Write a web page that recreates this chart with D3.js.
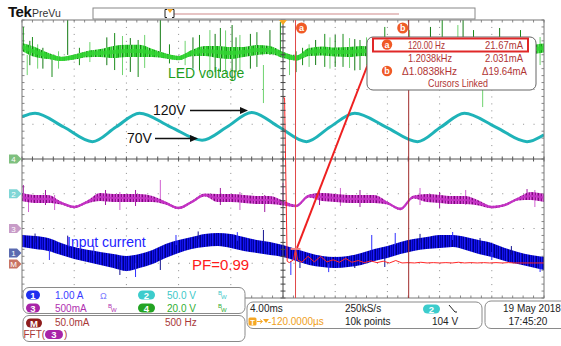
<!DOCTYPE html>
<html><head><meta charset="utf-8">
<script src="https://cdn.jsdelivr.net/npm/d3@7"></script>
<style>
html,body{margin:0;padding:0;background:#fff;}
svg{display:block;font-family:"Liberation Sans",Arial,sans-serif;}
</style></head><body>
<svg id="c" width="561" height="346"></svg>
<script>
// ================= DATA =================
const timeMs = [-20,-19,-18,-17,-16,-15,-14,-13,-12,-11,-10,-9,-8,-7,-6,-5,-4,-3,-2,-1,0,1,2,3,4,5,6,7,8,9,10,11,12,13,14,15,16,17,18,19,20];
// CH4 LED voltage (V): centre of trace and half-width of dense noise band
const ledVoltage = [64.5,61.6,59.3,57.6,58.7,60.4,61.0,61.6,62.2,62.2,61.0,59.3,58.1,61.0,62.2,61.6,61.0,61.6,62.7,62.7,59.9,58.1,61.6,62.2,61.6,61.6,62.2,61.6,59.9,58.1,60.4,62.2,62.2,61.6,61.6,62.2,59.9,58.1,60.4,62.7,63.9];
const ledNoise = [2.3,2.9,1.8,1.2,1.5,1.8,2.3,3.5,3.5,3.5,2.3,1.5,1.2,1.8,2.9,3.5,3.5,2.9,2.9,2.3,1.8,1.5,2.3,2.6,2.6,2.9,2.9,2.9,1.8,1.2,1.8,2.9,2.9,2.9,2.9,2.3,1.5,1.2,1.8,2.6,2.6];
const ledSpikes = [[-19.9,76.0,65.6],[-19.6,59.9,48.3],[-19.4,68,54],[-19.2,70.2,62.7],[-18.8,66,52],[-18.4,64,52],[-17.7,59.9,47.2],[-17.2,62,52],[-16.5,80.0,59.9],[-15.6,64,54],[-14.8,67.3,55.8],[-13.5,70,54],[-12.9,72.5,51.2],[-12.3,70.8,48.3],[-11.7,69.6,50.1],[-11.1,68.5,47.2],[-10.6,71.4,52.4],[-9.4,80.0,59.9],[-8.7,66,55],[-7.5,68,54],[-6.9,70,52],[-6.4,71.4,51.2],[-5.6,74.2,48.3],[-5.2,72,50],[-4.8,75.4,50.1],[-4.4,74,49],[-3.9,77.1,45.5],[-3.6,70,50],[-3.3,71.4,51.2],[-2.5,72,52],[-2.0,73,53],[-1.5,54.1,32.2],[-1.0,74.2,59.9],[-0.2,78.8,59.9],[0.5,59.9,48.3],[1.0,62,50],[1.5,64,54],[2.0,66,53],[2.5,68.5,54.1],[3.2,72,53],[3.6,70,52],[4.0,71.4,53.0],[4.6,72,53],[5.1,69.6,52.4],[5.5,69,51],[5.9,68.5,51.2],[6.4,70,54],[6.7,66,54],[7.8,76.0,68.5],[9.7,74.2,68.5],[11.3,76.0,68.5],[12.2,80.0,68.5],[13.4,77.1,68.5],[13.8,80.0,68.5],[14.6,74.2,68.5],[15.3,40.9,29.9],[16.6,75.4,68.5],[18.2,74.2,68.5],[19.7,70.2,54.1]];
// CH2 bus voltage (V) key points
const busTime = [-20,-19.0,-16.8,-14.6,-12.8,-11.0,-8.6,-6.2,-4.3,-2.4,-0.3,1.8,3.6,5.5,7.9,10.3,12.1,13.9,16.3,18.7,20];
const busVolt = [111,116,96,75,96,116,96,77,96,117,96,75,96,116,96,75,96,116,96,75,85];
// CH3 current (A): centre and noise half-width
const ch3Current = [0.453,0.425,0.425,0.367,0.309,0.381,0.453,0.439,0.439,0.439,0.425,0.367,0.295,0.381,0.482,0.439,0.439,0.425,0.410,0.410,0.367,0.324,0.468,0.453,0.439,0.425,0.425,0.425,0.367,0.281,0.453,0.439,0.425,0.410,0.410,0.367,0.309,0.338,0.425,0.468,0.439];
const ch3Noise = [0.058,0.058,0.058,0.022,0.018,0.022,0.058,0.058,0.058,0.058,0.043,0.022,0.018,0.018,0.022,0.058,0.058,0.058,0.058,0.058,0.036,0.018,0.022,0.058,0.058,0.058,0.058,0.058,0.022,0.018,0.022,0.058,0.058,0.058,0.058,0.036,0.018,0.018,0.022,0.058,0.058];
const ch3Spikes = [[-19.9,0.626,0.410],[-19.5,0.410,0.237],[-18.2,0.554,0.338],[-17.5,0.482,0.266],[-13.6,0.554,0.338],[-12.5,0.525,0.266],[-11.3,0.554,0.324],[-9.4,0.698,0.410],[-4.8,0.583,0.338],[-3.3,0.525,0.266],[-1.4,0.482,0.237],[0,0.655,0.338],[2.8,0.554,0.338],[4.4,0.583,0.324],[5.9,0.554,0.309],[10.5,0.583,0.338],[12.0,0.525,0.295],[14.0,0.554,0.338],[18.7,0.568,0.410],[19.3,0.554,0.309]];
// CH1 input current (A): upper and lower envelope of the noisy band
const inputHi = [0.518,0.489,0.432,0.29,0.17,0.09,0.03,-0.029,-0.086,-0.029,0.086,0.259,0.374,0.460,0.547,0.576,0.547,0.460,0.374,0.317,0.230,0.115,0,-0.086,-0.115,-0.086,0,0.115,0.201,0.317,0.403,0.460,0.518,0.518,0.460,0.374,0.288,0.144,0.029,-0.058,-0.115];
const inputLo = [0.173,0.115,0.058,-0.058,-0.173,-0.259,-0.345,-0.432,-0.518,-0.432,-0.317,-0.144,0,0.115,0.173,0.201,0.144,0.058,0,-0.058,-0.115,-0.230,-0.345,-0.403,-0.432,-0.403,-0.345,-0.230,-0.144,-0.029,0.058,0.115,0.144,0.173,0.086,-0.029,-0.115,-0.230,-0.317,-0.403,-0.489];
const inputSpikes = [[-19.0,0.56,0.3],[-17.9,0.086,-0.201],[-16.5,0.5,0.2],[-14.5,0.2,-0.05],[-12.5,-0.259,-0.633],[-11.3,-0.288,-0.691],[-9.4,-0.144,-0.489],[-8.2,0.518,0.230],[-6.5,0.62,0.4],[-3.5,0.6,0.35],[-1.5,0.662,0.288],[0.6,-0.230,-0.633],[1.3,-0.144,-0.432],[3.5,-0.3,-0.55],[5.5,-0.259,-0.432],[6.8,0.518,0.086],[7.8,-0.058,-0.403],[8.6,0.576,0.230],[10.5,0.55,0.3],[13.0,0.604,0.374],[15.1,0.432,0.201],[16.0,0.029,-0.201],[17.5,0.2,-0.05],[19.7,-0.259,-0.547]];
// Math: FFT(CH3) magnitude (mA) vs frequency (Hz)
const fftHz = [0,15,40,60,100,120,140,180,240,300,360,420,480,540,600,660,720,780,840,900,960,1020,1080,1140,1200,1260,1320,1380,1440,1500,1560,1620,1680,1740,1800,1860,1920,1980,2040,2100,2160,2220,2280,2340,2400,2460,2500];
const fftmA = [239,239,4,2,6,21.7,6,2.5,11,3,11,3,6,2.5,8,2.5,5,2,4.5,2,4,1.5,5,1.5,2.0,1.5,2.5,1.5,2,1.5,2,1.5,2.5,1.5,2,1.5,2,1.5,2,1.5,2,1.5,1.5,1.5,1.5,1.5,1.5];
// cursors
const cursorHz = [120, 1203.8];
const cursormA = [21.67, 2.031];
const readoutFreq = ["120.00 Hz","1.2038kHz","\u0394" + "1.0838kHz"];
const readoutAmp = ["21.67mA","2.031mA","\u0394" + "19.64mA"];
// settings texts
const chanLabels = ["1","2","3","4"];
const chanScaleText = ["1.00 A","50.0 V","500mA","20.0 V"];
const mathTexts = ["50.0mA","500 Hz"];
const timebaseTexts = ["4.00ms","250kS/s","-120.0000\u00b5s","10k points","104 V"];
const dateTexts = ["19 May  2018","17:45:20"];

// ================= LAYOUT =================
const svg = d3.select('#c');
const X0=22, X1=544, Y0=20, Y1=298;
const DIV=(Y1-Y0)/8, HDIV=(X1-X0)/10, CY=Y0+4*DIV, CX=(X0+X1)/2;
const xT = d3.scaleLinear().domain([-20,20]).range([X0,X1]);
const xF = d3.scaleLinear().domain([-2500,2500]).range([X0,X1]);
const chScale=(gy,per)=>d3.scaleLinear().domain([0,per]).range([gy,gy-DIV]);
const y4=chScale(CY,20), y2=chScale(CY+DIV,50), y3=chScale(CY+2*DIV,0.5), y1=chScale(253,1.0), yM=chScale(264,50);

const defs=svg.append('defs');
defs.append('clipPath').attr('id','plot').append('rect').attr('x',X0).attr('y',Y0).attr('width',X1-X0).attr('height',Y1-Y0);
function stripes(id, cols){
  const p=defs.append('pattern').attr('id',id).attr('patternUnits','userSpaceOnUse').attr('width',cols.length).attr('height',40);
  cols.forEach((c,i)=>p.append('rect').attr('x',i).attr('y',0).attr('width',1).attr('height',40).attr('fill',c));
}
stripes('gN',['#2bcf2b','#1a9a1a','#4fdc4f','#2bcf2b','#7fd87f','#168016','#33d633','#5fe05f','#2bc42b']);
stripes('mN',['#c838c8','#8e128e','#d860d8','#b424b4','#7a0c7a','#cc44cc']);
stripes('bN',['#1212e0','#00009a','#1c1cff','#0808c0','#000080','#1414f0','#0000b0']);

// ---- graticule ----
const grid=svg.append('g');
for(let i=1;i<10;i++){ if(i===5) continue;
  grid.append('line').attr('x1',X0+i*HDIV).attr('x2',X0+i*HDIV).attr('y1',Y0).attr('y2',Y1)
   .attr('stroke','#8c8c8c').attr('stroke-width',1).attr('stroke-dasharray',`1 ${DIV/5-1}`);
}
for(let j=1;j<8;j++){ if(j===4) continue;
  grid.append('line').attr('y1',Y0+j*DIV).attr('y2',Y0+j*DIV).attr('x1',X0).attr('x2',X1)
   .attr('stroke','#8c8c8c').attr('stroke-width',1).attr('stroke-dasharray',`1 ${HDIV/5-1}`);
}
for(let k=0;k<=50;k++){ const x=X0+k*HDIV/5;
  grid.append('line').attr('x1',x).attr('x2',x).attr('y1',Y0).attr('y2',Y0+2.5).attr('stroke','#888');
  grid.append('line').attr('x1',x).attr('x2',x).attr('y1',Y1-2.5).attr('y2',Y1).attr('stroke','#888');
}
for(let k=0;k<=40;k++){ const y=Y0+k*DIV/5;
  grid.append('line').attr('x1',X0).attr('x2',X0+2.5).attr('y1',y).attr('y2',y).attr('stroke','#888');
  grid.append('line').attr('x1',X1-2.5).attr('x2',X1).attr('y1',y).attr('y2',y).attr('stroke','#888');
}

// ---- traces ----
const tr=svg.append('g').attr('clip-path','url(#plot)');
const idx=d3.range(timeMs.length);
function band(ys, c, n, fill){
  tr.append('path').datum(idx).attr('fill',fill)
    .attr('d',d3.area().x(i=>xT(timeMs[i])).y0(i=>ys(c[i]-n[i])).y1(i=>ys(c[i]+n[i])).curve(d3.curveMonotoneX));
}
function spikes(ys, arr, cols, w){
  tr.selectAll(null).data(arr).join('line').attr('x1',d=>xT(d[0])).attr('x2',d=>xT(d[0]))
    .attr('y1',d=>ys(d[1])).attr('y2',d=>ys(d[2])).attr('stroke',(d,i)=>cols[i%cols.length]).attr('stroke-width',w||1);
}
const lineC=(ys,c)=>d3.line().x(i=>xT(timeMs[i])).y(i=>ys(c[i])).curve(d3.curveMonotoneX);

// green LED voltage
spikes(y4, ledSpikes, ['#1a8c1a','#6fd36f','#137a13'], 1);
band(y4, ledVoltage, ledNoise, 'url(#gN)');
tr.append('path').datum(idx).attr('d',lineC(y4,ledVoltage)).attr('fill','none').attr('stroke','#33d433').attr('stroke-width',4).attr('opacity',0.85);
// cyan bus voltage
tr.append('path').datum(d3.range(busTime.length)).attr('fill','none').attr('stroke','#1fb3b8').attr('stroke-width',3)
  .attr('d',d3.line().x(i=>xT(busTime[i])).y(i=>y2(busVolt[i])).curve(d3.curveMonotoneX));
// magenta ch3
spikes(y3, ch3Spikes, ['#a01aa0','#d060d0'], 1);
band(y3, ch3Current, ch3Noise, 'url(#mN)');
tr.append('path').datum(idx).attr('d',lineC(y3,ch3Current)).attr('fill','none').attr('stroke','#c433c4').attr('stroke-width',2.2).attr('opacity',0.9);
// blue input current
tr.append('path').datum(idx).attr('fill','url(#bN)')
  .attr('d',d3.area().x(i=>xT(timeMs[i])).y0(i=>y1(inputLo[i])).y1(i=>y1(inputHi[i])).curve(d3.curveMonotoneX));
spikes(y1, inputSpikes, ['#141490','#3030ff'], 1);
// FFT
tr.append('path').datum(d3.range(fftHz.length)).attr('fill','none').attr('stroke','#ff2626').attr('stroke-width',1)
  .attr('d',d3.line().x(i=>xF(fftHz[i])).y(i=>yM(fftmA[i])));

// centre cross
const cc=svg.append('g');
cc.append('line').attr('x1',X0).attr('x2',X1).attr('y1',CY).attr('y2',CY).attr('stroke','#555');
cc.append('line').attr('x1',CX).attr('x2',CX).attr('y1',Y0).attr('y2',Y1).attr('stroke','#444');
for(let k=0;k<=50;k++){ const x=X0+k*HDIV/5; cc.append('line').attr('x1',x).attr('x2',x).attr('y1',CY-2.5).attr('y2',CY+2.5).attr('stroke','#555');}
for(let k=0;k<=40;k++){ const y=Y0+k*DIV/5; cc.append('line').attr('x1',CX-2.5).attr('x2',CX+2.5).attr('y1',y).attr('y2',y).attr('stroke','#444');}
svg.append('rect').attr('x',X0).attr('y',Y0).attr('width',X1-X0).attr('height',Y1-Y0).attr('fill','none').attr('stroke','#777');

// cursors
const cur=svg.append('g');
cur.append('line').attr('x1',xF(cursorHz[0])).attr('x2',xF(cursorHz[0])).attr('y1',Y0).attr('y2',Y1).attr('stroke','#e04848').attr('stroke-width',1);
cur.append('line').attr('x1',xF(cursorHz[1])).attr('x2',xF(cursorHz[1])).attr('y1',Y0).attr('y2',Y1).attr('stroke','#a02c2c').attr('stroke-width',1);
cur.append('line').attr('x1',xF(cursorHz[0])-5).attr('x2',xF(cursorHz[0])+5).attr('y1',yM(cursormA[0])).attr('y2',yM(cursormA[0])).attr('stroke','#f08080').attr('stroke-width',2);
function badge(x,y,t){ svg.append('circle').attr('cx',x).attr('cy',y).attr('r',5.5).attr('fill','#f05a26');
  svg.append('text').attr('x',x).attr('y',y+3).attr('text-anchor','middle').attr('font-size',9).attr('font-weight','bold').attr('fill','#fff').text(t); }
badge(xF(cursorHz[0])+6,28,'a');
badge(xF(cursorHz[1])-6,28,'b');
svg.append('path').attr('d',`M${CX-4},${Y0} L${CX+4},${Y0} L${CX},${Y0+5} Z`).attr('fill','#f5a623');

// annotations
const ann=svg.append('g').attr('font-size',14);
ann.append('text').attr('x',168).attr('y',78).attr('fill','#1e9e1e').text('LED voltage');
ann.append('text').attr('x',67).attr('y',247).attr('fill','#2222ff').text('Input current');
ann.append('text').attr('x',192).attr('y',270).attr('fill','#ff1a1a').attr('font-size',15).text('PF=0.99');
ann.append('text').attr('x',153).attr('y',115).attr('fill','#111').text('120V');
ann.append('text').attr('x',127).attr('y',143).attr('fill','#111').text('70V');
function arrow(xa,xb,y){ ann.append('line').attr('x1',xa).attr('x2',xb-7).attr('y1',y).attr('y2',y).attr('stroke','#111').attr('stroke-width',1.3);
  ann.append('path').attr('d',`M${xb},${y} L${xb-8},${y-3.5} L${xb-8},${y+3.5} Z`).attr('fill','#111'); }
arrow(190, 248, 110.5);
arrow(155, 198, 138.5);
svg.append('line').attr('x1',xF(cursorHz[0])+1.5).attr('y1',yM(cursormA[0])-1).attr('x2',373).attr('y2',51).attr('stroke','#ee2020').attr('stroke-width',2);

// readout box
const rb=svg.append('g').attr('fill','#b03434').attr('font-size',10.5);
rb.append('rect').attr('x',367).attr('y',37).attr('width',169).attr('height',53).attr('rx',6).attr('fill','#fff').attr('stroke','#666');
rb.append('rect').attr('x',373).attr('y',38.5).attr('width',155).attr('height',13).attr('fill','none').attr('stroke','#e02828').attr('stroke-width',2);
const rowY=[48.5,61.5,75];
readoutFreq.forEach((t,i)=>rb.append('text').attr('x',i===2?402:408).attr('y',rowY[i]).attr('textLength',i===0?37:(i===1?44:55)).attr('lengthAdjust','spacingAndGlyphs').text(t));
readoutAmp.forEach((t,i)=>rb.append('text').attr('x',i===2?482:485).attr('y',rowY[i]).attr('textLength',i===2?45:38).attr('lengthAdjust','spacingAndGlyphs').text(t));
rb.append('text').attr('x',428).attr('y',87).attr('textLength',60).attr('lengthAdjust','spacingAndGlyphs').text('Cursors Linked');
[['a',44.5],['b',71]].forEach(([t,y])=>{ rb.append('circle').attr('cx',387).attr('cy',y).attr('r',5.2).attr('fill','#f05a26');
  rb.append('text').attr('x',387).attr('y',y+3).attr('text-anchor','middle').attr('font-size',9).attr('font-weight','bold').attr('fill','#fff').text(t); });

// ground markers
const gm=[['4',CY,'#7fc07f'],['2',CY+DIV,'#7fd6d6'],['3',CY+2*DIV,'#c89cc8'],['1',253,'#5a6ab0'],['M',264,'#c87464']];
gm.forEach(([t,y,c])=>{ svg.append('path').attr('d',`M9,${y-4.5} H17 L21.5,${y} L17,${y+4.5} H9 Z`).attr('fill',c);
  svg.append('text').attr('x',13.5).attr('y',y+3).attr('text-anchor','middle').attr('font-size',8).attr('fill','#fff').text(t); });

// header
svg.append('text').attr('x',8).attr('y',17).attr('font-size',15).attr('font-weight','bold').attr('letter-spacing',-0.5).attr('fill','#111').text('Tek');
svg.append('text').attr('x',32).attr('y',17).attr('font-size',10.5).attr('fill','#333').text('PreVu');
svg.append('rect').attr('x',93).attr('y',8).attr('width',382).attr('height',11).attr('fill','#fff').attr('stroke','#888');
svg.append('line').attr('x1',174).attr('x2',399).attr('y1',14).attr('y2',14).attr('stroke','#d08a8a').attr('stroke-width',1.2);
svg.append('path').attr('d','M167,9.5 H165 V17.5 H167 M172,9.5 H174 V17.5 H172').attr('fill','none').attr('stroke','#222');
svg.append('path').attr('d','M167,9 L173,9 L170,13 Z').attr('fill','#f5a623');

// bottom panels
const bp=svg.append('g').attr('font-size',10);
function rbox(x,y,w,h){ bp.append('rect').attr('x',x).attr('y',y).attr('width',w).attr('height',h).attr('rx',6).attr('fill','#fff').attr('stroke','#8a8a8a'); }
function pill(x,y,w,fill,t){ bp.append('rect').attr('x',x).attr('y',y).attr('width',w).attr('height',9).attr('rx',4.5).attr('fill',fill);
  bp.append('text').attr('x',x+w/2).attr('y',y+8).attr('text-anchor','middle').attr('font-size',9.5).attr('font-weight','bold').attr('fill','#fff').text(t); }
function bw(x,y,c){ bp.append('text').attr('x',x).attr('y',y-4).attr('font-size',6).attr('fill',c).text('B');
  bp.append('text').attr('x',x+3).attr('y',y).attr('font-size',6).attr('fill',c).text('W'); }
rbox(23,287.5,222,26);
pill(26,290.5,14,'#1f2fef',chanLabels[0]);
bp.append('text').attr('x',55).attr('y',299).attr('fill','#3a3aff').text(chanScaleText[0]);
bp.append('text').attr('x',100).attr('y',299).attr('fill','#8080ff').attr('font-size',9).text('\u03a9');
pill(138,290.5,17,'#3ccccc',chanLabels[1]);
bp.append('text').attr('x',167).attr('y',299).attr('fill','#3cc8c8').text(chanScaleText[1]);
bw(218,299,'#3cc8c8');
pill(26,303.5,14,'#a824a8',chanLabels[2]);
bp.append('text').attr('x',55).attr('y',311.7).attr('fill','#b030b0').text(chanScaleText[2]);
bw(108,311.7,'#b030b0');
pill(138,303.5,17,'#23a323',chanLabels[3]);
bp.append('text').attr('x',167).attr('y',311.7).attr('fill','#2fae2f').text(chanScaleText[3]);
bw(218,311.7,'#2fae2f');
rbox(23,315.5,222,26);
pill(26,318.5,16,'#8e1d1d','M');
bp.append('text').attr('x',55).attr('y',326).attr('fill','#a83838').text(mathTexts[0]);
bp.append('text').attr('x',165).attr('y',326).attr('fill','#a83838').text(mathTexts[1]);
bp.append('text').attr('x',23.5).attr('y',338).attr('fill','#a83838').text('FFT(');
pill(45,330,18,'#a824a8','3');
bp.append('text').attr('x',64).attr('y',338).attr('fill','#a83838').text(')');
rbox(247,302,235,26.5);
bp.append('text').attr('x',250).attr('y',312).attr('fill','#222').text(timebaseTexts[0]);
bp.append('text').attr('x',345).attr('y',312).attr('fill','#222').text(timebaseTexts[1]);
pill(423,304.5,17,'#3ccccc','2');
bp.append('path').attr('d','M449,305 L455,312 L457,312').attr('fill','none').attr('stroke','#222');
bp.append('rect').attr('x',248.5).attr('y',317.5).attr('width',8).attr('height',8).attr('rx',1.5).attr('fill','#f5a623');
bp.append('text').attr('x',252.5).attr('y',324.5).attr('text-anchor','middle').attr('font-size',7.5).attr('font-weight','bold').attr('fill','#fff').text('T');
bp.append('path').attr('d','M257,321.5 H262 M260,319.5 L262.5,321.5 L260,323.5').attr('fill','none').attr('stroke','#f5a623');
bp.append('path').attr('d','M263,319 L269,319 L266,323 Z').attr('fill','#f5a623');
bp.append('text').attr('x',268).attr('y',325).attr('fill','#f0a020').text(timebaseTexts[2]);
bp.append('text').attr('x',345).attr('y',325).attr('fill','#222').text(timebaseTexts[3]);
bp.append('text').attr('x',432).attr('y',325).attr('fill','#222').text(timebaseTexts[4]);
rbox(485,301,90,27.5);
bp.append('text').attr('x',503).attr('y',312).attr('fill','#222').text(dateTexts[0]);
bp.append('text').attr('x',508.5).attr('y',325).attr('fill','#222').text(dateTexts[1]);
</script></body></html>
